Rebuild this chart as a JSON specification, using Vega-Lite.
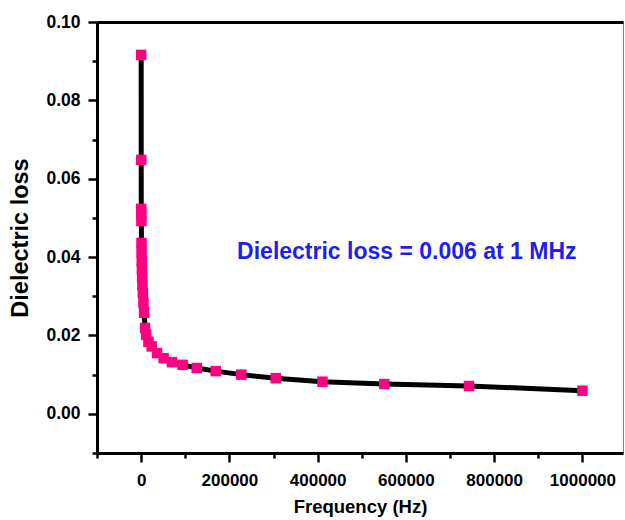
{
  "$schema": "https://vega.github.io/schema/vega-lite/v6.json",
  "width": 526,
  "height": 431,
  "autosize": {"type": "none"},
  "padding": {"left": 97, "top": 22, "right": 2, "bottom": 67},
  "background": "white",
  "config": {"view": {"stroke": "#808080", "strokeWidth": 1}, "font": "Liberation Sans"},
  "data": {
    "values": [
      {"freq": 100, "loss": 0.0916},
      {"freq": 200, "loss": 0.0648},
      {"freq": 300, "loss": 0.0523},
      {"freq": 400, "loss": 0.0508},
      {"freq": 550, "loss": 0.0492},
      {"freq": 750, "loss": 0.0436},
      {"freq": 1000, "loss": 0.0413},
      {"freq": 1300, "loss": 0.039},
      {"freq": 1700, "loss": 0.037},
      {"freq": 2200, "loss": 0.0349},
      {"freq": 2900, "loss": 0.0329},
      {"freq": 3900, "loss": 0.0309},
      {"freq": 5200, "loss": 0.0283},
      {"freq": 6800, "loss": 0.0258},
      {"freq": 9000, "loss": 0.0219},
      {"freq": 11500, "loss": 0.0202},
      {"freq": 16500, "loss": 0.0184},
      {"freq": 24000, "loss": 0.0172},
      {"freq": 36000, "loss": 0.0155},
      {"freq": 51000, "loss": 0.0142},
      {"freq": 70000, "loss": 0.0132},
      {"freq": 94000, "loss": 0.0125},
      {"freq": 126000, "loss": 0.0117},
      {"freq": 169000, "loss": 0.0109},
      {"freq": 227000, "loss": 0.01},
      {"freq": 305000, "loss": 0.0091},
      {"freq": 411000, "loss": 0.0082},
      {"freq": 551000, "loss": 0.0076},
      {"freq": 743000, "loss": 0.0071},
      {"freq": 1000000, "loss": 0.0059}
    ]
  },
  "layer": [
    {
      "mark": {"type": "line", "color": "black", "strokeWidth": 5},
      "encoding": {
        "x": {
          "field": "freq", "type": "quantitative",
          "scale": {"domain": [-100000, 1092000], "nice": false, "zero": false},
          "axis": {
            "orient": "bottom",
            "values": [-100000, 0, 100000, 200000, 300000, 400000, 500000, 600000, 700000, 800000, 900000, 1000000],
            "format": "d",
            "labelExpr": "datum.value % 200000 === 0 ? datum.label : ''",
            "tickSize": {"condition": {"test": "datum.value % 200000 === 0", "value": 9}, "value": 5},
            "domainColor": "black", "domainWidth": 3,
            "tickColor": "black", "tickWidth": 2.5,
            "labelFontWeight": "bold", "labelFontSize": 17, "labelColor": "black", "labelPadding": 10,
            "labelFlush": false, "labelOverlap": false,
            "title": "Frequency (Hz)", "titleFontSize": 18.5, "titleFontWeight": "bold", "titleColor": "black", "titlePadding": 9,
            "grid": false
          }
        },
        "y": {
          "field": "loss", "type": "quantitative",
          "scale": {"domain": [-0.01, 0.1], "nice": false, "zero": false},
          "axis": {
            "orient": "left",
            "values": [0, 0.02, 0.04, 0.06, 0.08, 0.1],
            "format": ".2f",
            "tickSize": 9,
            "domainColor": "black", "domainWidth": 3,
            "tickColor": "black", "tickWidth": 2.5,
            "labelFontWeight": "bold", "labelFontSize": 17.5, "labelColor": "black", "labelPadding": 8,
            "labelFlush": false, "labelOverlap": false,
            "title": "Dielectric loss", "titleFontSize": 23.5, "titleFontWeight": "bold", "titleColor": "black", "titlePadding": 13,
            "grid": false
          }
        }
      }
    },
    {
      "mark": {"type": "square", "color": "#FF0080", "size": 110, "opacity": 1},
      "encoding": {
        "x": {
          "field": "freq", "type": "quantitative",
          "axis": {"orient": "top", "labels": false, "ticks": false, "title": null, "domainColor": "black", "domainWidth": 3, "grid": false}
        },
        "y": {
          "field": "loss", "type": "quantitative",
          "axis": {"orient": "left", "values": [-0.01, 0.01, 0.03, 0.05, 0.07, 0.09], "labels": false, "title": null, "domain": false, "tickSize": 5, "tickColor": "black", "tickWidth": 2.5, "grid": false}
        }
      }
    },
    {
      "data": {"values": [{"freq": 217500, "loss": 0.0413, "label": "Dielectric loss = 0.006 at 1 MHz"}]},
      "mark": {"type": "text", "align": "left", "baseline": "middle", "fontWeight": "bold", "fontSize": 23, "color": "#1E1EF0", "font": "Liberation Sans"},
      "encoding": {
        "x": {"field": "freq", "type": "quantitative", "axis": null},
        "y": {"field": "loss", "type": "quantitative", "axis": null},
        "text": {"field": "label"}
      }
    }
  ],
  "resolve": {"axis": {"x": "independent", "y": "independent"}}
}
